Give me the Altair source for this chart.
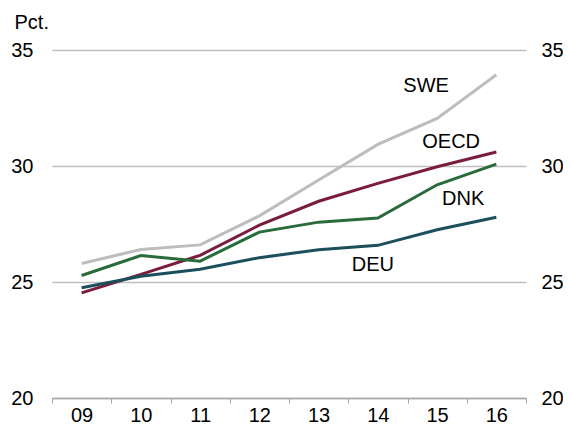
import altair as alt
import pandas as pd

years = ["09", "10", "11", "12", "13", "14", "15", "16"]
swe = [25.8, 26.4, 26.6, 27.85, 29.4, 30.93, 32.05, 33.93]
oecd = [24.53, 25.33, 26.15, 27.45, 28.48, 29.25, 29.97, 30.6]
dnk = [25.28, 26.14, 25.9, 27.15, 27.58, 27.76, 29.19, 30.08]
deu = [24.75, 25.25, 25.55, 26.05, 26.39, 26.58, 27.25, 27.79]

series_names = ["SWE", "OECD", "DNK", "DEU"]
series_colors = ["#bdbdbd", "#7a1c3e", "#2a6b3c", "#1c4f5c"]

label_names = ["SWE", "OECD", "DNK", "DEU"]
label_years = ["15", "15", "15", "14"]
label_values = [33.5, 31.06, 28.64, 25.76]
label_dx = [-11, 14, 26, -5]

rows = []
for name, vals in zip(series_names, [swe, oecd, dnk, deu]):
    for y, v in zip(years, vals):
        rows.append({"year": y, "value": v, "series": name})
df = pd.DataFrame(rows)

FONT = "Liberation Sans"
FS = 20

xenc = alt.X(
    "year:O",
    sort=years,
    scale=alt.Scale(domain=years, paddingInner=0, paddingOuter=0),
    axis=alt.Axis(
        title=None, labelAngle=0, tickBand="extent", domainColor="#a6a6a6",
        tickColor="#a6a6a6", tickSize=5, domainWidth=1.5, labelPadding=2,
        labelFontSize=FS, labelFont=FONT, labelColor="#000000",
    ),
)
yscale = alt.Scale(domain=[20, 35], nice=False, zero=False)
left_axis = alt.Axis(
    values=[20, 25, 30, 35], domain=False, ticks=False, grid=True,
    gridColor="#bfbfbf", gridWidth=1.5, labelPadding=19,
    labelFontSize=FS, labelFont=FONT, labelColor="#000000",
    title="Pct.", titleAngle=0, titleAlign="left", titleBaseline="alphabetic",
    titleX=-38, titleY=-22, titleFontSize=FS, titleFont=FONT,
    titleFontWeight="normal", titleColor="#000000",
)

lines = alt.Chart(df).mark_line(strokeWidth=3).encode(
    x=xenc,
    y=alt.Y("value:Q", scale=yscale, axis=left_axis),
    color=alt.Color("series:N", scale=alt.Scale(domain=series_names, range=series_colors), legend=None),
    detail="series:N",
)

ldf = pd.DataFrame({"name": label_names, "year": label_years, "value": label_values})
texts = []
for i in range(len(label_names)):
    texts.append(
        alt.Chart(ldf.iloc[[i]]).mark_text(
            font=FONT, fontSize=FS, color="#000000", dx=label_dx[i], baseline="middle", dy=1
        ).encode(
            x=xenc,
            y=alt.Y("value:Q", scale=yscale, axis=left_axis),
            text="name:N",
        )
    )

main = alt.layer(lines, *texts)

right_axis = alt.Chart(df).mark_line(opacity=0).encode(
    x=xenc,
    y=alt.Y(
        "value:Q", scale=yscale,
        axis=alt.Axis(
            orient="right", values=[20, 25, 30, 35], domain=False, ticks=False, grid=False,
            labelPadding=15, labelFontSize=FS, labelFont=FONT, labelColor="#000000", title=None,
        ),
    ),
    detail="series:N",
)

chart = alt.layer(main, right_axis).resolve_scale(y="independent").properties(
    width=474, height=348,
    autosize=alt.AutoSizeParams(type="none"),
    padding={"left": 44, "top": 42, "right": 37, "bottom": 28},
).configure_view(stroke=None)

chart.save("out.html", embed_options={"renderer": "svg", "actions": False})
